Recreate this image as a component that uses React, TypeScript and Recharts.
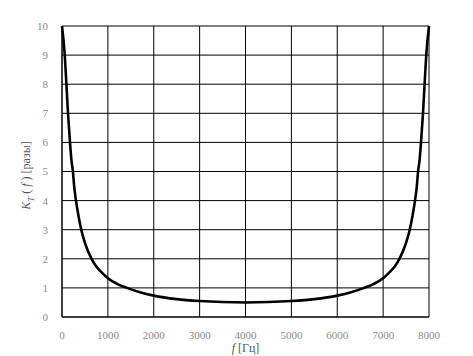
import React from 'react';
import { CartesianGrid, Line, LineChart, XAxis, YAxis } from 'recharts';

// frequency points [Hz] and K_T(f) values
const freqs = [
  0, 60, 96, 131, 174, 205, 238, 265, 305, 357, 420, 510, 645, 740, 885, 1000, 1200, 1400, 1700,
  2000, 2500, 3000, 3500, 4000, 4500, 5000, 5500, 6000, 6300, 6600, 6800, 7000, 7115, 7260, 7355,
  7490, 7580, 7643, 7695, 7735, 7762, 7795, 7826, 7869, 7904, 7940, 8000,
];
const kValues = [
  10, 9, 8, 7, 6, 5.4, 5, 4.5, 4, 3.5, 3, 2.5, 2, 1.75, 1.5, 1.33, 1.14, 1.01, 0.85,
  0.735, 0.615, 0.55, 0.513, 0.5, 0.513, 0.55, 0.615, 0.735, 0.85, 1.01, 1.14, 1.33, 1.5, 1.75, 2,
  2.5, 3, 3.5, 4, 4.5, 5, 5.4, 6, 7, 8, 9, 10,
];
const xTicks = [0, 1000, 2000, 3000, 4000, 5000, 6000, 7000, 8000];
const yTicks = [0, 1, 2, 3, 4, 5, 6, 7, 8, 9, 10];

const data = freqs.map((f, i) => ({ f, k: kValues[i] }));

const serif = '"Liberation Serif", "DejaVu Serif", serif';
const tickStyle = { fontSize: 11, fill: '#8a8a8a', fontFamily: serif };

const YLabel = (props: any) => {
  const vb = props.viewBox || { y: 26, height: 291 };
  const cy = vb.y + vb.height / 2 + 4;
  return (
    <text
      x={0}
      y={0}
      transform={`translate(30, ${cy}) rotate(-90)`}
      textAnchor="middle"
      fontSize={12}
      fontFamily={serif}
      style={{ fill: '#555' }}
    >
      <tspan fontStyle="italic">K</tspan>
      <tspan fontStyle="italic" fontSize={9} dy={4}>T</tspan>
      <tspan dy={-4}> ( </tspan>
      <tspan fontStyle="italic">f</tspan>
      <tspan> ) [разы]</tspan>
    </text>
  );
};

const XLabel = (props: any) => {
  const vb = props.viewBox || { x: 62, width: 367, y: 317 };
  return (
    <text
      x={vb.x + vb.width / 2}
      y={352}
      textAnchor="middle"
      fontSize={12}
      fontFamily={serif}
      style={{ fill: '#555' }}
    >
      <tspan fontStyle="italic">f</tspan>
      <tspan> [Гц]</tspan>
    </text>
  );
};

export default function App() {
  return (
    <div style={{ position: 'absolute', left: 0, top: 0, background: '#fff' }}>
      <LineChart
        width={473}
        height={356}
        data={data}
        margin={{ top: 26, right: 44, left: 22, bottom: 9 }}
      >
        <CartesianGrid stroke="#000" strokeWidth={1} />
        <XAxis
          dataKey="f"
          type="number"
          domain={[0, 8000]}
          ticks={xTicks}
          interval={0}
          tick={tickStyle}
          tickLine={false}
          axisLine={{ stroke: '#000' }}
          tickMargin={8}
          height={30}
          label={<XLabel />}
        />
        <YAxis
          dataKey="k"
          type="number"
          domain={[0, 10]}
          ticks={yTicks}
          interval={0}
          tick={tickStyle}
          tickLine={false}
          axisLine={{ stroke: '#000' }}
          tickMargin={8}
          width={40}
          allowDataOverflow
          label={<YLabel />}
        />
        <Line
          type="monotone"
          dataKey="k"
          stroke="#000"
          strokeWidth={2.6}
          dot={false}
          isAnimationActive={false}
        />
      </LineChart>
    </div>
  );
}
